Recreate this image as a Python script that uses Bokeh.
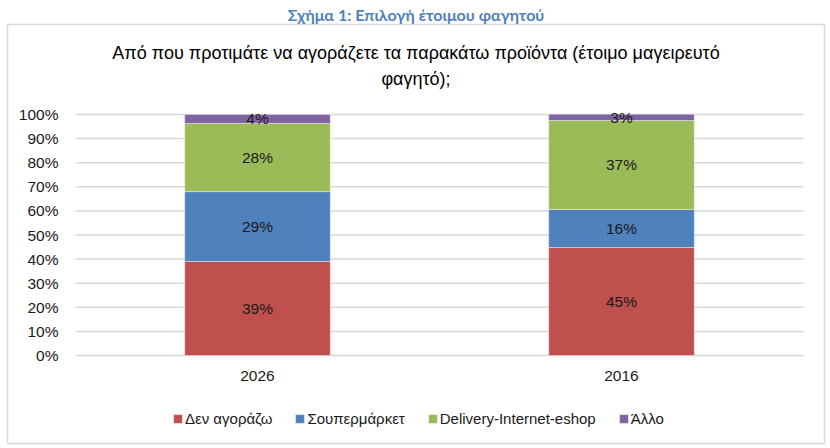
from bokeh.plotting import figure
from bokeh.models import (ColumnDataSource, Label, Legend, LegendItem,
                          Range1d, FixedTicker)
from bokeh.core.properties import value
from bokeh.embed import file_html
from bokeh.resources import INLINE

# ---- data ----
years = ["2026", "2016"]
series_names = ["Δεν αγοράζω", "Σουπερμάρκετ", "Delivery-Internet-eshop", "Άλλο"]
den_agorazo = [39.0, 44.8]
supermarket = [29.0, 15.8]
delivery = [28.3, 36.9]
allo = [3.7, 2.6]
y_ticks = [0, 10, 20, 30, 40, 50, 60, 70, 80, 90, 100]
caption = "Σχήμα 1: Επιλογή έτοιμου φαγητού"
title_line1 = "Από που προτιμάτε να αγοράζετε τα παρακάτω προϊόντα (έτοιμο μαγειρευτό"
title_line2 = "φαγητό);"

colors = ["#C0504D", "#4F81BD", "#9BBB59", "#8064A2"]
FONT = "Liberation Sans"
keys = ["den", "sup", "deli", "allo"]

# ---- layout geometry (pixels) ----
W, H = 830, 448
BOX_L, BOX_R, BOX_T, BOX_B = 7, 824, 24, 443      # chart border box = frame
PA_L, PA_R, PA_T, PA_B = 75, 803, 114, 355        # plot area inside the box
n = len(years)
px_per_x = (PA_R - PA_L) / n
px_per_y = (PA_B - PA_T) / 100.0
x_start = -0.5 - (PA_L - BOX_L) / px_per_x
x_end = (n - 0.5) + (BOX_R - PA_R) / px_per_x
y_start = 0 - (BOX_B - PA_B) / px_per_y
y_end = 100 + (PA_T - BOX_T) / px_per_y

xi = list(range(n))
src = ColumnDataSource(dict(x=xi, den=den_agorazo, sup=supermarket,
                            deli=delivery, allo=allo))

p = figure(x_range=Range1d(x_start, x_end), y_range=Range1d(y_start, y_end),
           width=W, height=H, output_backend="svg", toolbar_location=None,
           min_border_left=BOX_L, min_border_right=W - BOX_R,
           min_border_top=BOX_T, min_border_bottom=H - BOX_B,
           outline_line_color="#D9D9D9", outline_line_width=1.5,
           background_fill_color="white", border_fill_color="white")

# caption above the box
p.title.text = caption
p.title.align = "center"
p.title.text_font = "Lato"
p.title.text_font_style = "bold"
p.title.text_font_size = "16px"
p.title.text_color = "#4F81BD"
p.title.standoff = 1

# gridlines limited to plot area
p.xgrid.visible = False
p.ygrid.visible = False
p.segment(x0=-0.5, x1=n - 0.5, y0=y_ticks, y1=y_ticks,
          line_color="#D9D9D9", line_width=1.5)

rs = p.vbar_stack(keys, x="x", width=0.4, color=colors, source=src,
                  line_color="white", line_width=0.8, line_alpha=0.5)

# data labels
lx, ly, lt = [], [], []
for i in range(n):
    base = 0.0
    for arr in (den_agorazo, supermarket, delivery, allo):
        v = arr[i]
        lx.append(i)
        ly.append(base + v / 2)
        lt.append(f"{v:.0f}%")
        base += v
lsrc = ColumnDataSource(dict(x=lx, y=ly, t=lt))
p.text(x="x", y="y", text="t", source=lsrc, text_align="center",
       text_baseline="middle", text_font=value(FONT), text_font_size="15.5px",
       text_color="#1a1a1a")

# axes placed inside the box
p.yaxis.fixed_location = -0.5
p.xaxis.fixed_location = 0
p.yaxis.ticker = FixedTicker(ticks=y_ticks)
p.yaxis.major_label_overrides = {t: f"{t}%" for t in y_ticks}
p.xaxis.ticker = FixedTicker(ticks=xi)
p.xaxis.major_label_overrides = {i: y for i, y in zip(xi, years)}
for ax in (p.xaxis[0], p.yaxis[0]):
    ax.axis_line_color = None
    ax.major_tick_line_color = None
    ax.minor_tick_line_color = None
    ax.major_tick_out = 0
    ax.major_tick_in = 0
    ax.minor_tick_out = 0
    ax.major_label_text_font = FONT
    ax.major_label_text_font_size = "15.5px"
    ax.major_label_text_color = "#1a1a1a"
p.yaxis.major_label_standoff = 17
p.xaxis.major_label_standoff = 15

# legend
items = [LegendItem(label=nm, renderers=[r]) for nm, r in zip(series_names, rs)]
leg = Legend(items=items, orientation="horizontal", location=(172 - BOX_L, 16),
             glyph_width=11, glyph_height=11, label_standoff=2, spacing=22,
             padding=0, margin=0, border_line_color=None, background_fill_alpha=0,
             label_text_font=FONT, label_text_font_size="15px",
             label_text_color="#1a1a1a", label_height=14)
p.add_layout(leg, "center")

# chart title (two lines)
cx = (BOX_R - BOX_L) / 2
p.add_layout(Label(x=cx, y=BOX_B - 52, x_units="screen", y_units="screen",
                   text=title_line1, text_align="center", text_baseline="middle",
                   text_font=FONT, text_font_size="18px", text_color="#000000"))
p.add_layout(Label(x=cx, y=BOX_B - 78, x_units="screen", y_units="screen",
                   text=title_line2, text_align="center", text_baseline="middle",
                   text_font=FONT, text_font_size="18px", text_color="#000000"))

open("out.html", "w").write(file_html(p, INLINE))
